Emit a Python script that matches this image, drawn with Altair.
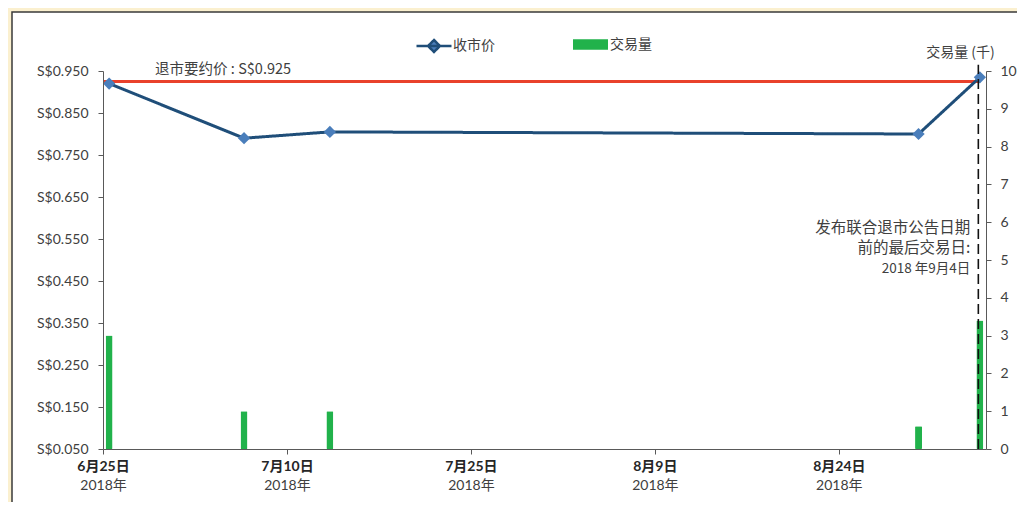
import altair as alt
import pandas as pd

# ---- data ----
dates = ["2018-06-25T12:00:00", "2018-07-06T12:00:00", "2018-07-13T12:00:00",
         "2018-08-30T12:00:00", "2018-09-04T12:00:00"]
close_price = [0.920, 0.790, 0.805, 0.800, 0.935]
volume_k = [3.0, 1.0, 1.0, 0.6, 3.4]
offer_price = 0.925
event_date = "2018-09-04T09:00:00"
x_start = (2018, 6, 25)
x_end = (2018, 9, 5)
tick_dates = [(2018, 6, 25), (2018, 7, 10), (2018, 7, 25), (2018, 8, 9), (2018, 8, 24)]
price_ticks = [0.05, 0.15, 0.25, 0.35, 0.45, 0.55, 0.65, 0.75, 0.85, 0.95]
volume_ticks = [0, 1, 2, 3, 4, 5, 6, 7, 8, 9, 10]
series_names = ["收市价", "交易量"]
offer_label = f"退市要约价 : S${offer_price:.3f}"
event_lines = ["发布联合退市公告日期", "前的最后交易日:", "2018 年9月4日"]
event_line_y = [0.577, 0.528, 0.479]
event_line_size = [15.5, 15.5, 13.5]
vol_title = "交易量 (千)"

# ---- styles ----
BLUE_LINE = "#1F4E79"
BLUE_MARK = "#4A7EBB"
GREEN = "#21B24B"
RED = "#E9412B"
TXT = "#404040"
AX = "#595959"
FONT_NUM = "Lato, Noto Sans CJK SC"
FONT_CJK = "Noto Sans CJK SC"
LINE_SYMBOL = "M-1,0H1M0,-0.34L0.34,0L0,0.34L-0.34,0Z"
RECT_SYMBOL = "M-1,-0.3H1V0.3H-1Z"

def dt(t, h=0):
    return alt.DateTime(year=t[0], month=t[1], date=t[2], hours=h)

tick_dt = [dt(t) for t in tick_dates]
x_scale = alt.Scale(domain=[dt(x_start), dt(x_end)], nice=False, padding=0)
price_scale = alt.Scale(domain=[0.05, 0.95], nice=False, zero=False)

df = pd.DataFrame({"date": dates, "price": close_price, "volume": volume_k,
                   "vseries": series_names[1], "pseries": series_names[0]})

# background chart frame (decorative)
bg = alt.Chart(pd.DataFrame({"a": [0]})).mark_rect(
    fill="white", stroke="#3a3a3a", strokeWidth=1.5, clip=False
).encode(x=alt.value(-91), x2=alt.value(1100), y=alt.value(-59), y2=alt.value(600))

bars = alt.Chart(df).mark_bar(size=7, cornerRadius=1, opacity=1).encode(
    x=alt.X("date:T", scale=x_scale, axis=alt.Axis(
        values=tick_dt, orient="bottom", title=None, grid=False, zindex=1,
        labelExpr="(month(datum.value)+1) + '月' + date(datum.value) + '日'",
        labelFont=FONT_NUM, labelFontSize=14, labelFontWeight="bold", labelColor="#262626",
        labelPadding=5, tickSize=5, tickColor=AX, domainColor=AX,
        labelFlush=False, labelOverlap=False)),
    y=alt.Y("volume:Q", scale=alt.Scale(domain=[0, 10], nice=False, padding=0), axis=alt.Axis(
        orient="right", values=volume_ticks, title=vol_title, titleAngle=0, zindex=1,
        titleX=-26, titleY=-19, titleAlign="center", titleBaseline="middle",
        titleFont=FONT_CJK, titleFontSize=14, titleFontWeight="normal", titleColor=TXT,
        labelFont=FONT_NUM, labelFontSize=14, labelColor=TXT, labelPadding=9,
        tickSize=5, tickColor=AX, domainColor=AX, grid=False)),
    color=alt.Color("vseries:N", scale=alt.Scale(domain=[series_names[1]], range=[GREEN]),
                    legend=alt.Legend(
                        title=None, orient="none", legendX=470, legendY=-44,
                        symbolType=RECT_SYMBOL, symbolSize=1225, symbolStrokeWidth=0,
                        labelFont=FONT_CJK, labelFontSize=14, labelColor=TXT, labelOffset=2)),
)

year_axis = alt.Chart(pd.DataFrame({"t": [f"{t[0]}-{t[1]:02d}-{t[2]:02d}" for t in tick_dates]})).mark_point(
    opacity=0).encode(
    x=alt.X("t:T", scale=x_scale, axis=alt.Axis(
        values=tick_dt, orient="bottom", title=None, grid=False, domain=False, ticks=False,
        tickSize=0, labelExpr="year(datum.value) + '年'", labelFont=FONT_NUM, zindex=1,
        labelFontSize=14, labelColor=TXT, labelPadding=29,
        labelFlush=False, labelOverlap=False))
)

xn = alt.X("date:T", scale=x_scale, axis=None)

line = alt.Chart(df).mark_line(color=BLUE_LINE, strokeWidth=3).encode(
    x=xn,
    y=alt.Y("price:Q", scale=price_scale, axis=alt.Axis(
        orient="left", values=price_ticks, title=None, grid=False, zindex=1,
        labelExpr="'S$' + format(datum.value, '.3f')",
        labelFont=FONT_NUM, labelFontSize=14, labelColor=TXT, labelPadding=10,
        tickSize=5, tickColor=AX, domainColor=AX)),
    strokeDash=alt.StrokeDash("pseries:N", scale=alt.Scale(domain=[series_names[0]], range=[[1, 0]]),
                              legend=alt.Legend(
                                  title=None, orient="none", legendX=312, legendY=-44,
                                  symbolType=LINE_SYMBOL, symbolSize=1225,
                                  symbolStrokeColor=BLUE_LINE, symbolFillColor=BLUE_MARK,
                                  symbolStrokeWidth=2.5,
                                  labelFont=FONT_CJK, labelFontSize=14, labelColor=TXT,
                                  labelOffset=0)),
)
points = alt.Chart(df).mark_point(shape="diamond", filled=True, size=150,
                                  color=BLUE_MARK, opacity=1).encode(
    x=xn, y=alt.Y("price:Q", scale=price_scale))

offer_df = pd.DataFrame({"s": ["2018-06-25T00:00:00"], "e": [dates[-1]],
                         "y": [offer_price], "lx": ["2018-06-29T06:00:00"],
                         "label": [offer_label]})
offer_rule = alt.Chart(offer_df).mark_rule(color=RED, strokeWidth=3).encode(
    x=alt.X("s:T", scale=x_scale, axis=None), x2="e:T",
    y=alt.Y("y:Q", scale=price_scale))
offer_text = alt.Chart(offer_df).mark_text(
    align="left", baseline="middle", dy=-12, font=FONT_CJK, fontSize=14.5, color=TXT
).encode(x=alt.X("lx:T", scale=x_scale, axis=None), y=alt.Y("y:Q", scale=price_scale),
         text="label:N")

event_df = pd.DataFrame({"d": [event_date], "y0": [0.05], "y1": [0.965]})
event_rule = alt.Chart(event_df).mark_rule(color="#111111", strokeWidth=1.6,
                                            strokeDash=[10, 5], clip=False).encode(
    x=alt.X("d:T", scale=x_scale, axis=None),
    y=alt.Y("y0:Q", scale=price_scale), y2="y1:Q")

event_text_layers = []
for txt, yv, fs in zip(event_lines, event_line_y, event_line_size):
    tdf = pd.DataFrame({"d": [event_date], "y": [yv], "t": [txt]})
    event_text_layers.append(alt.Chart(tdf).mark_text(
        align="right", baseline="middle", dx=-8, font=FONT_CJK, fontSize=fs, color=TXT
    ).encode(x=alt.X("d:T", scale=x_scale, axis=None), y=alt.Y("y:Q", scale=price_scale),
             text="t:N"))

price_group = alt.layer(offer_rule, line, points, offer_text, event_rule, *event_text_layers)

chart = alt.layer(bg, bars, year_axis, price_group).resolve_scale(
    y="independent").resolve_axis(x="independent").properties(
    width=883, height=378,
    padding={"left": 95, "top": 63, "right": 31, "bottom": 53},
    autosize=alt.AutoSizeParams(type="none"),
).configure(background="#FBF0CF").configure_view(strokeWidth=0)

chart.save("out.html", embed_options={"renderer": "svg", "actions": False})
